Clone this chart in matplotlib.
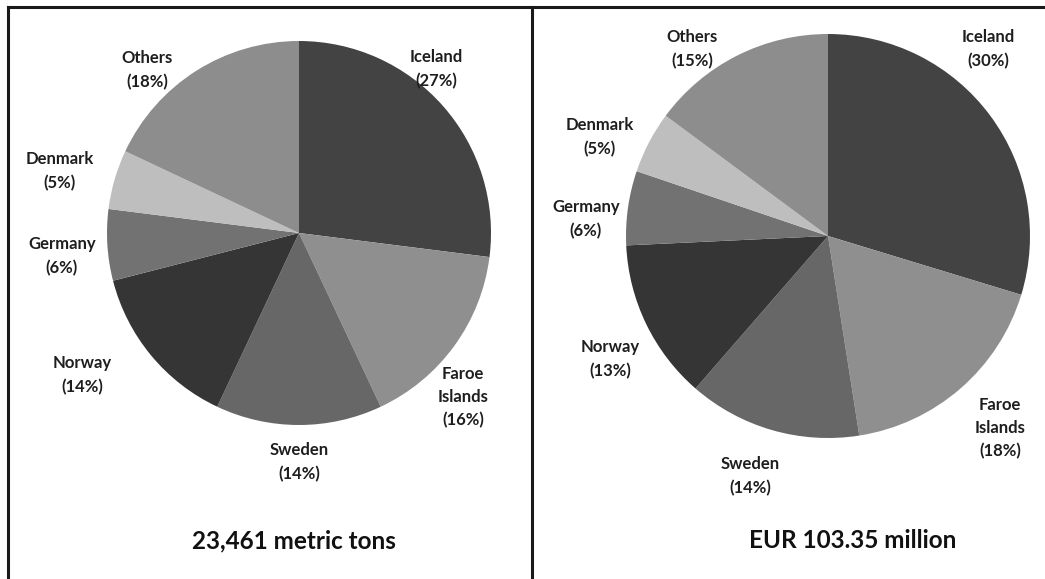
import numpy as np
import matplotlib
matplotlib.use('Agg')
import matplotlib.pyplot as plt
from matplotlib.lines import Line2D

plt.rcParams['font.family'] = ['Lato', 'DejaVu Sans']

W, H = 1045, 579

countries = ["Iceland", "Faroe\nIslands", "Sweden", "Norway", "Germany", "Denmark", "Others"]
volume_share = [27, 16, 14, 14, 6, 5, 18]
value_share = [30, 18, 14, 13, 6, 5, 15]
panel_titles = ["23,461 metric tons", "EUR 103.35 million"]

greys = ["#434343", "#8f8f8f", "#676767", "#353535", "#727272", "#bebebe", "#8d8d8d"]

# label anchor points in pixels (x, y from top) for each panel
label_pos_left = [(436, 69), (463, 397), (299, 462), (82, 375), (62, 256), (60, 171), (147, 70)]
label_pos_right = [(988, 49), (1000, 428), (750, 476), (610, 359), (586, 219), (600, 137), (692, 49)]

# pie centre and radius in pixels, plus title position
pies = [((299, 233), 192, volume_share, label_pos_left, (294, 541)),
        ((828, 236), 202, value_share, label_pos_right, (853, 541))]

fig = plt.figure(figsize=(W / 100, H / 100), dpi=100)

for title, ((cx, cy), r, shares, lpos, tpos) in zip(panel_titles, pies):
    ax = fig.add_axes([(cx - r) / W, 1 - (cy + r) / H, 2 * r / W, 2 * r / H])
    ax.pie(shares, colors=greys, startangle=90, counterclock=False,
           radius=1, wedgeprops=dict(linewidth=0))
    ax.set_xlim(-1, 1)
    ax.set_ylim(-1, 1)
    ax.set_aspect('auto')
    ax.axis('off')
    for name, pct, (x, y) in zip(countries, shares, lpos):
        fig.text(x / W, 1 - y / H, f"{name}\n({pct}%)", ha='center', va='center',
                 fontsize=12, fontweight='bold', color='#1e1e1e', linespacing=1.55)
    fig.text(tpos[0] / W, 1 - tpos[1] / H, title, ha='center', va='center',
             fontsize=17.5, fontweight='bold', color='#111111')

# panel frame
frame = dict(color='#1a1a1a', linewidth=2.2, transform=fig.transFigure)
fig.add_artist(Line2D([8 / W, 1], [1 - 7 / H, 1 - 7 / H], **frame))
fig.add_artist(Line2D([8 / W, 8 / W], [1 - 7 / H, 0], **frame))
fig.add_artist(Line2D([532 / W, 532 / W], [1 - 7 / H, 0], **frame))

fig.savefig("out.png", dpi=100)
